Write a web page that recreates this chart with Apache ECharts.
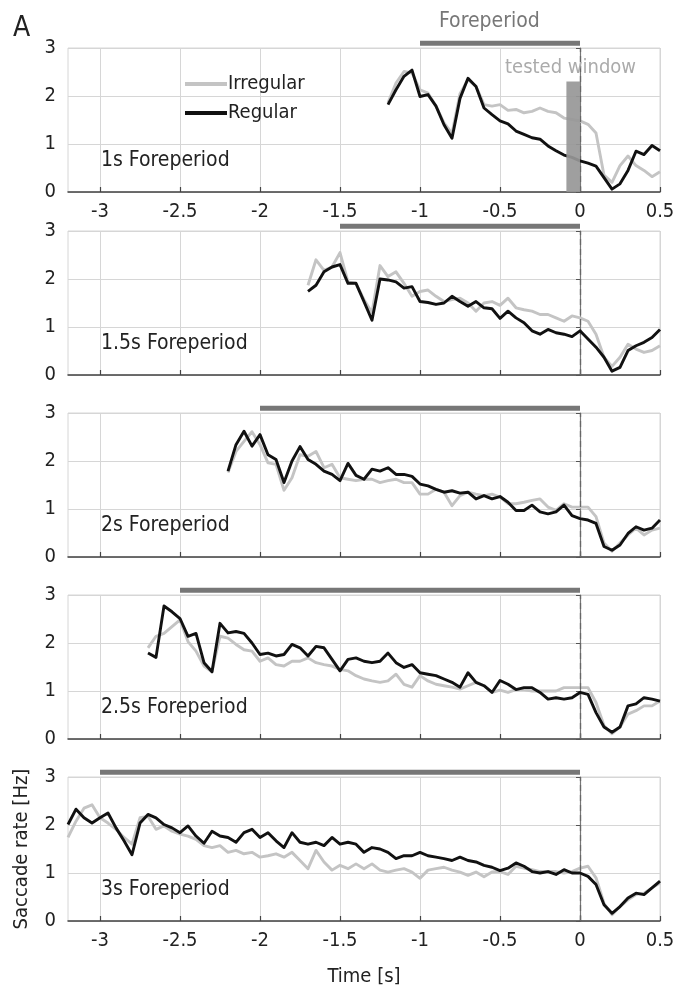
<!DOCTYPE html>
<html>
<head>
<meta charset="utf-8">
<script src="https://cdn.jsdelivr.net/npm/echarts@6/dist/echarts.min.js"></script>
<style>
  html, body { margin: 0; padding: 0; background: #fff; }
  #chart { width: 678px; height: 992px; }
</style>
</head>
<body>
<div id="chart"></div>
<script>
// Saccade rate around target onset, one panel per foreperiod duration.
const FONT = "'Liberation Sans Narrow','DejaVu Sans Condensed','Noto Sans',sans-serif";

const timeTicks = [-3, -2.5, -2, -1.5, -1, -0.5, 0, 0.5];
const rateTicks = [0, 1, 2, 3];
const foreperiods = [1, 1.5, 2, 2.5, 3];
const panelLabels = ['1s Foreperiod', '1.5s Foreperiod', '2s Foreperiod', '2.5s Foreperiod', '3s Foreperiod'];
const seriesNames = ['Irregular', 'Regular'];

// samples are 50 ms apart, starting at each panel's first time point
const sampleStep = 0.05;
const startTimes = [-1.2, -1.7, -2.2, -2.7, -3.2];

const irregular1 = [1.86,2.27,2.51,2.48,2.13,2.06,1.79,1.44,1.22,2.05,2.34,2.20,1.82,1.79,1.82,1.70,1.72,1.65,1.68,1.75,1.68,1.65,1.54,1.51,1.48,1.41,1.23,0.35,0.20,0.55,0.75,0.55,0.45,0.32,0.42];
const regular1   = [1.82,2.13,2.41,2.54,1.99,2.03,1.79,1.40,1.12,1.95,2.37,2.20,1.75,1.61,1.48,1.42,1.27,1.20,1.13,1.10,0.96,0.86,0.77,0.72,0.65,0.60,0.54,0.30,0.06,0.17,0.45,0.85,0.78,0.97,0.86];

const irregular2 = [1.87,2.40,2.18,2.25,2.55,1.94,1.91,1.57,1.30,2.28,2.05,2.15,1.91,1.64,1.74,1.77,1.64,1.53,1.57,1.60,1.50,1.33,1.50,1.53,1.45,1.60,1.40,1.36,1.33,1.26,1.26,1.19,1.12,1.23,1.19,1.12,0.85,0.37,0.18,0.37,0.64,0.54,0.47,0.51,0.61];
const regular2   = [1.74,1.87,2.15,2.25,2.30,1.91,1.91,1.53,1.14,2.00,1.98,1.94,1.81,1.84,1.53,1.51,1.47,1.50,1.64,1.53,1.43,1.53,1.40,1.38,1.18,1.33,1.19,1.09,0.92,0.85,0.95,0.88,0.85,0.80,0.92,0.75,0.58,0.37,0.08,0.16,0.51,0.61,0.68,0.78,0.95];

const irregular3 = [1.76,2.20,2.41,2.61,2.34,1.96,1.93,1.39,1.65,2.13,2.10,2.20,1.86,1.93,1.65,1.62,1.59,1.62,1.62,1.55,1.59,1.62,1.55,1.55,1.31,1.31,1.41,1.35,1.07,1.28,1.35,1.31,1.28,1.31,1.25,1.11,1.11,1.14,1.18,1.21,1.04,0.97,1.11,1.04,1.04,1.04,0.84,0.29,0.12,0.29,0.46,0.60,0.46,0.56,0.60];
const regular3   = [1.79,2.34,2.62,2.31,2.55,2.13,2.03,1.55,2.00,2.30,2.03,1.93,1.79,1.72,1.59,1.95,1.70,1.62,1.83,1.79,1.86,1.72,1.72,1.68,1.52,1.48,1.41,1.35,1.38,1.33,1.35,1.21,1.28,1.21,1.26,1.14,0.97,0.97,1.08,0.94,0.90,0.94,1.08,0.86,0.80,0.77,0.70,0.22,0.14,0.25,0.49,0.63,0.56,0.60,0.77];

const irregular4 = [1.90,2.14,2.20,2.34,2.48,2.03,1.83,1.52,1.40,2.14,2.10,1.97,1.86,1.83,1.62,1.69,1.55,1.52,1.62,1.62,1.69,1.59,1.55,1.52,1.45,1.42,1.32,1.25,1.21,1.18,1.21,1.35,1.14,1.08,1.32,1.21,1.14,1.11,1.08,1.04,1.11,1.18,1.11,0.97,1.02,0.97,1.03,1.03,1.00,1.00,1.00,1.00,1.07,1.07,1.07,1.07,0.76,0.28,0.11,0.25,0.52,0.59,0.69,0.69,0.79];
const regular4   = [1.79,1.70,2.77,2.65,2.51,2.14,2.20,1.59,1.40,2.41,2.21,2.24,2.20,2.00,1.76,1.79,1.73,1.76,1.97,1.90,1.73,1.93,1.90,1.66,1.42,1.66,1.69,1.62,1.59,1.62,1.79,1.59,1.49,1.55,1.38,1.35,1.32,1.25,1.18,1.08,1.38,1.18,1.11,0.97,1.22,1.14,1.03,1.07,1.07,0.97,0.83,0.86,0.83,0.86,0.97,0.93,0.55,0.25,0.14,0.25,0.69,0.73,0.86,0.83,0.79];

const irregular5 = [1.74,2.08,2.35,2.42,2.15,2.04,1.91,1.74,1.60,2.15,2.18,1.91,1.98,1.87,1.81,1.77,1.70,1.57,1.53,1.57,1.43,1.47,1.40,1.43,1.33,1.36,1.40,1.33,1.43,1.26,1.09,1.47,1.23,1.06,1.16,1.09,1.19,1.09,1.19,1.06,1.02,1.06,1.09,1.02,0.89,1.06,1.09,1.12,1.06,1.02,0.95,1.02,0.92,1.02,1.03,0.97,1.14,1.10,1.07,1.03,1.03,1.03,1.00,1.03,1.10,1.14,0.90,0.37,0.13,0.30,0.44,0.55,0.58,0.69,0.79];
const regular5   = [2.01,2.33,2.15,2.04,2.15,2.25,1.94,1.67,1.38,2.04,2.22,2.15,2.01,1.94,1.84,1.98,1.77,1.62,1.87,1.77,1.74,1.64,1.84,1.91,1.74,1.84,1.67,1.53,1.84,1.64,1.60,1.64,1.57,1.74,1.60,1.64,1.60,1.43,1.53,1.50,1.43,1.30,1.36,1.36,1.43,1.36,1.33,1.30,1.26,1.33,1.26,1.23,1.16,1.12,1.05,1.10,1.21,1.14,1.03,1.00,1.03,0.97,1.07,1.00,1.00,0.93,0.76,0.34,0.16,0.30,0.48,0.58,0.55,0.69,0.83];

// analysis window used for the statistics (1 s foreperiod panel only)
const testedWindow = [-0.085, 0];
const testedWindowTop = 2.3;

const irregularRates = [irregular1, irregular2, irregular3, irregular4, irregular5];
const regularRates = [regular1, regular2, regular3, regular4, regular5];

// ---- layout / style ----
const tMin = -3.2, tMax = 0.5;
const gridTops = [48, 231, 413, 595, 777];
const gridHeight = 144;
const barLevel = 3.1;           // foreperiod bar sits just above each panel
const axisText = { fontSize: 20, color: '#222', fontFamily: FONT };
const colIrregular = '#c4c4c4';
const colRegular = '#111111';

function toPairs(start, values) {
  return values.map((v, i) => [+(start + i * sampleStep).toFixed(3), v]);
}

const grids = [], xAxes = [], yAxes = [], series = [], titles = [];

foreperiods.forEach((fp, p) => {
  const last = p === foreperiods.length - 1;
  const showTimeLabels = p === 0 || last;
  grids.push({
    left: 68, right: 18, top: gridTops[p], height: gridHeight,
    show: true, borderColor: '#d6d6d6', borderWidth: 1
  });
  xAxes.push({
    type: 'value', gridIndex: p, min: tMin, max: tMax,
    axisLine: { show: true, onZero: false, lineStyle: { color: '#444', width: 1.5 } },
    axisTick: { show: true, inside: true, length: 5, customValues: timeTicks, lineStyle: { color: '#444', width: 1.2 } },
    axisLabel: { show: showTimeLabels, customValues: timeTicks, margin: 10, ...axisText,
                 formatter: v => String(v) },
    splitLine: { show: true, lineStyle: { color: '#d6d6d6', width: 1 } },
    name: last ? 'Time [s]' : '', nameLocation: 'middle', nameGap: 46,
    nameTextStyle: { ...axisText }
  });
  yAxes.push({
    type: 'value', gridIndex: p, min: rateTicks[0], max: rateTicks[rateTicks.length - 1], interval: 1,
    axisLine: { show: true, lineStyle: { color: '#777', width: 1.2 } },
    axisTick: { show: true, inside: false, length: 4, lineStyle: { color: '#555' } },
    axisLabel: { margin: 12, ...axisText },
    splitLine: { show: true, lineStyle: { color: '#d6d6d6', width: 1 } },
    name: last ? 'Saccade rate [Hz]' : '', nameLocation: 'middle', nameGap: 36, nameRotate: 90,
    nameTextStyle: { ...axisText }
  });

  // foreperiod bar (from -foreperiod to target onset) and dashed onset line
  series.push({
    type: 'line', xAxisIndex: p, yAxisIndex: p, silent: true, clip: false,
    data: [[-fp, barLevel], [0, barLevel]], showSymbol: false,
    lineStyle: { color: '#777', width: 5, cap: 'butt' },
    markLine: {
      silent: true, symbol: 'none', label: { show: false },
      lineStyle: { color: '#666', type: [6, 4], width: 1.3 },
      data: [{ xAxis: 0 }]
    },
    z: 3
  });

  series.push({
    name: seriesNames[0], type: 'line', xAxisIndex: p, yAxisIndex: p,
    data: toPairs(startTimes[p], irregularRates[p]), showSymbol: false, silent: true,
    lineStyle: { color: colIrregular, width: 2.9, join: 'round' }, itemStyle: { color: colIrregular }, z: 4
  });
  series.push({
    name: seriesNames[1], type: 'line', xAxisIndex: p, yAxisIndex: p,
    data: toPairs(startTimes[p], regularRates[p]), showSymbol: false, silent: true,
    lineStyle: { color: colRegular, width: 2.9, join: 'round' }, itemStyle: { color: colRegular }, z: 5
  });

  titles.push({
    text: panelLabels[p], left: 96, top: gridTops[p] + 97,
    textStyle: { fontSize: 21, fontWeight: 'normal', color: '#222', fontFamily: FONT }
  });
});

// tested window patch in the 1 s panel
series.push({
  type: 'line', xAxisIndex: 0, yAxisIndex: 0, silent: true, showSymbol: false,
  data: [[testedWindow[0], testedWindowTop], [testedWindow[1], testedWindowTop]],
  lineStyle: { width: 0 },
  areaStyle: { color: '#979797', opacity: 0.92, origin: 'start' },
  z: 6
});

titles.push(
  { text: 'A', left: 8, top: 10, textStyle: { fontSize: 28, fontWeight: 'normal', color: '#222', fontFamily: FONT } },
  { text: 'Foreperiod', left: 434, top: 6, textStyle: { fontSize: 21, fontWeight: 'normal', color: '#777', fontFamily: FONT } },
  { text: 'tested window', left: 500, top: 53, textStyle: { fontSize: 20, fontWeight: 'normal', color: '#ababab', fontFamily: FONT } }
);

const chart = echarts.init(document.getElementById('chart'), null, { renderer: 'canvas' });
chart.setOption({
  animation: false,
  backgroundColor: '#fff',
  title: titles,
  legend: {
    data: seriesNames, orient: 'vertical', left: 180, top: 69,
    icon: 'rect', itemWidth: 42, itemHeight: 4, itemGap: 9, selectedMode: false,
    textStyle: { fontSize: 20, color: '#222', fontFamily: FONT, padding: [0, 0, 0, -4] }
  },
  grid: grids,
  xAxis: xAxes,
  yAxis: yAxes,
  series: series
});
</script>
</body>
</html>
